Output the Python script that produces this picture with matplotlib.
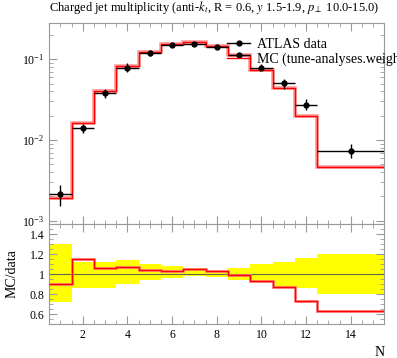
import numpy as np
import matplotlib
matplotlib.use('Agg')
import matplotlib.pyplot as plt
from matplotlib.lines import Line2D
from matplotlib.ticker import MultipleLocator, LogLocator, NullFormatter

plt.rcParams['font.family'] = ['Liberation Serif', 'DejaVu Serif']
plt.rcParams['mathtext.fontset'] = 'stix'

# bins (last bin is wide)
edges = [0.5, 1.5, 2.5, 3.5, 4.5, 5.5, 6.5, 7.5, 8.5, 9.5, 10.5, 11.5, 12.5, 15.5]
xdata = [1, 2, 3, 4, 5, 6, 7, 8, 9, 10, 11, 12, 14]

# ATLAS data values and relative uncertainties (up / down)
data = [0.00214, 0.0141, 0.0382, 0.078, 0.1186, 0.149, 0.156, 0.143, 0.114, 0.0787, 0.0503, 0.0274, 0.00738]
err_up = [0.303, 0.117, 0.117, 0.137, 0.097, 0.077, 0.057, 0.033, 0.063, 0.097, 0.123, 0.163, 0.197]
err_dn = [0.283, 0.143, 0.143, 0.097, 0.063, 0.037, 0.017, 0.030, 0.057, 0.077, 0.143, 0.143, 0.197]

# MC / data ratio
ratio = [0.903, 1.147, 1.06, 1.07, 1.04, 1.033, 1.05, 1.03, 0.99, 0.93, 0.87, 0.73, 0.63]

data = np.array(data)
ratio = np.array(ratio)
mc = data * ratio
eu = np.array(err_up)
ed = np.array(err_dn)
edges = np.array(edges)
xlo = np.array(xdata) - edges[:-1]
xhi = edges[1:] - np.array(xdata)

fig = plt.figure(figsize=(3.97, 3.58), dpi=100)
ax = fig.add_axes([0.124, 0.374, 0.844, 0.561])
rax = fig.add_axes([0.124, 0.095, 0.844, 0.279])

grey = '#999999'

# main panel
ax.stairs(mc, edges, baseline=None, color='#ff8080', lw=2.6, alpha=0.8, zorder=2)
ax.stairs(mc, edges, baseline=None, color='red', lw=1.0, zorder=3)
ax.errorbar(xdata, data, xerr=[xlo, xhi], yerr=[data * ed, data * eu],
            fmt='o', color='black', ms=3.5, lw=1.0, capsize=0, zorder=4)
h_data = Line2D([], [], color='black', marker='o', ms=3.5, lw=1.0)
h_mc = Line2D([], [], color='red', lw=1.0)
ax.set_yscale('log')
ax.set_xlim(0.5, 15.5)
ax.set_ylim(9.1e-4, 0.279)
ax.yaxis.set_major_locator(LogLocator(base=10, numticks=10))
ax.yaxis.set_minor_locator(LogLocator(base=10, subs=np.arange(2, 10), numticks=10))
ax.yaxis.set_minor_formatter(NullFormatter())
ax.xaxis.set_major_locator(MultipleLocator(2))
ax.xaxis.set_minor_locator(MultipleLocator(0.5))
ax.tick_params(labelbottom=False)

ax.legend([h_data, h_mc], ['ATLAS data', 'MC (tune-analyses.weights)'],
          loc='upper left', bbox_to_anchor=(0.532, 0.925), frameon=False,
          fontsize=10, handlelength=1.6, handletextpad=0.55,
          labelspacing=0.1, borderaxespad=0, borderpad=0)

ax.text(0.0, 1.035, 'Charged jet multiplicity (anti-$k_t$, R = 0.6, $y$ 1.5-1.9, $p_\\perp$ 10.0-15.0)',
        transform=ax.transAxes, ha='left', va='bottom', fontsize=9)

# ratio panel
rax.fill_between(edges, np.append(1 - ed, 1 - ed[-1]), np.append(1 + eu, 1 + eu[-1]),
                 step='post', color='yellow', lw=0, zorder=1)
rax.axhline(1.0, color='#666655', lw=0.8, zorder=2)
rax.stairs(ratio, edges, baseline=None, color='#ff8080', lw=2.2, alpha=0.8, zorder=3)
rax.stairs(ratio, edges, baseline=None, color='red', lw=1.0, zorder=4)
rax.set_xlim(0.5, 15.5)
rax.set_ylim(0.5, 1.5)
rax.yaxis.set_minor_locator(MultipleLocator(0.05))
rax.xaxis.set_major_locator(MultipleLocator(2))
rax.xaxis.set_minor_locator(MultipleLocator(0.5))
rax.set_yticks([0.6, 0.8, 1.0, 1.2, 1.4])
rax.set_yticklabels(['0.6', '0.8', '1', '1.2', '1.4'])
rax.set_ylabel('MC/data', fontsize=10, labelpad=8)
rax.set_xlabel('N', fontsize=10, loc='right')

for a in (ax, rax):
    for s in a.spines.values():
        s.set_color(grey)
    a.tick_params(which='both', direction='in', top=True, right=True, colors=grey,
                  labelcolor='black', labelsize=8.5)
    a.tick_params(which='major', length=6)
    a.tick_params(which='minor', length=3)

fig.savefig('out.png', dpi=100)
